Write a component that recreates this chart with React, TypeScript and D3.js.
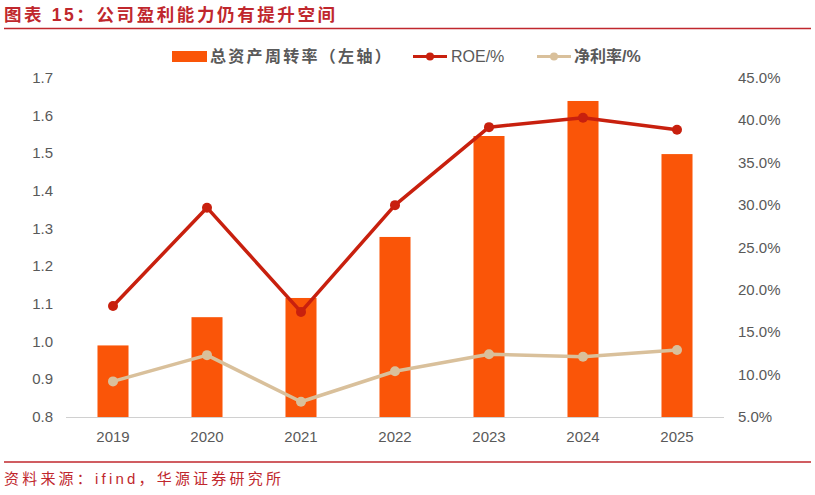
import * as d3 from "d3";

// chart data
const years = ["2019", "2020", "2021", "2022", "2023", "2024", "2025"];
const turnover = [0.99, 1.065, 1.116, 1.278, 1.546, 1.639, 1.498];
const roe = [18.1, 29.7, 17.4, 30.0, 39.2, 40.3, 38.9];
const netMargin = [9.2, 12.3, 6.8, 10.4, 12.4, 12.1, 12.9];
const leftTicks = [0.8, 0.9, 1.0, 1.1, 1.2, 1.3, 1.4, 1.5, 1.6, 1.7];
const rightTicks = [5, 10, 15, 20, 25, 30, 35, 40, 45];

const W = 815;
const H = 495;
const RED = "#c0272d";
const BAR = "#fa5508";
const ROE_C = "#c8200e";
const NM_C = "#d9c09b";
const TXT = "#595959";
const FONT = "'Liberation Sans', 'Noto Sans CJK SC', Arial, sans-serif";

export default function App() {
  const plot = { left: 66, right: 724, top: 78, bottom: 417 };

  const x = d3.scaleBand<string>().domain(years).range([plot.left, plot.right]).paddingInner(0).paddingOuter(0);
  const yL = d3.scaleLinear().domain([0.8, 1.7]).range([plot.bottom, plot.top]);
  const yR = d3.scaleLinear().domain([5, 45]).range([plot.bottom, plot.top]);
  const cx = (d: string) => x(d)! + x.bandwidth() / 2;
  const barW = x.bandwidth() * 0.33;

  const roeLine = d3.line<number>().x((_, i) => cx(years[i])).y(d => yR(d));
  const nmLine = d3.line<number>().x((_, i) => cx(years[i])).y(d => yR(d));

  return (
    <svg width={W} height={H} style={{ position: "absolute", left: 0, top: 0, background: "#fff" }} fontFamily={FONT}>
      {/* title */}
      <text x={4} y={21} fill={RED} fontSize={17.5} fontWeight="bold" letterSpacing={2.6}>图表 15：公司盈利能力仍有提升空间</text>
      <line x1={4} x2={811} y1={28.5} y2={28.5} stroke={RED} strokeWidth={1.5} />

      {/* legend */}
      <rect x={172} y={51} width={35} height={11} fill={BAR} />
      <text x={210} y={62} fill={TXT} fontSize={16} fontWeight="bold" letterSpacing={2.3}>总资产周转率（左轴）</text>
      <line x1={413} x2={447} y1={56.5} y2={56.5} stroke={ROE_C} strokeWidth={3} />
      <circle cx={430} cy={56.5} r={4} fill={ROE_C} />
      <text x={451} y={62} fill={TXT} fontSize={16}>ROE/%</text>
      <line x1={537} x2={571} y1={56.5} y2={56.5} stroke={NM_C} strokeWidth={3} />
      <circle cx={554} cy={56.5} r={4} fill={NM_C} />
      <text x={574} y={62} fill={TXT} fontSize={16} fontWeight="bold">净利率/%</text>

      {/* bars */}
      {turnover.map((v, i) => (
        <rect key={years[i]} x={cx(years[i]) - barW / 2} y={yL(v)} width={barW} height={yL(0.8) - yL(v)} fill={BAR} />
      ))}

      {/* x axis */}
      <line x1={plot.left} x2={plot.right} y1={plot.bottom + 0.5} y2={plot.bottom + 0.5} stroke="#d0d0d0" strokeWidth={1} />
      {years.map(y => (
        <text key={y} x={cx(y)} y={442} textAnchor="middle" fill={TXT} fontSize={15}>{y}</text>
      ))}

      {/* left axis labels */}
      {leftTicks.map(t => (
        <text key={t} x={53} y={yL(t) + 5} textAnchor="end" fill={TXT} fontSize={15}>{t.toFixed(1)}</text>
      ))}
      {/* right axis labels */}
      {rightTicks.map(t => (
        <text key={t} x={738} y={yR(t) + 5} textAnchor="start" fill={TXT} fontSize={15}>{t.toFixed(1)}%</text>
      ))}

      {/* net margin line */}
      <path d={nmLine(netMargin)!} fill="none" stroke={NM_C} strokeWidth={3.5} strokeLinejoin="round" />
      {netMargin.map((v, i) => (
        <circle key={i} cx={cx(years[i])} cy={yR(v)} r={5} fill={NM_C} />
      ))}

      {/* ROE line */}
      <path d={roeLine(roe)!} fill="none" stroke={ROE_C} strokeWidth={3.5} strokeLinejoin="round" />
      {roe.map((v, i) => (
        <circle key={i} cx={cx(years[i])} cy={yR(v)} r={5} fill={ROE_C} />
      ))}

      {/* footer */}
      <line x1={4} x2={811} y1={462} y2={462} stroke={RED} strokeWidth={1.5} />
      <text x={4} y={484} fill={RED} fontSize={15} letterSpacing={3.2}>资料来源：ifind，华源证券研究所</text>
    </svg>
  );
}
